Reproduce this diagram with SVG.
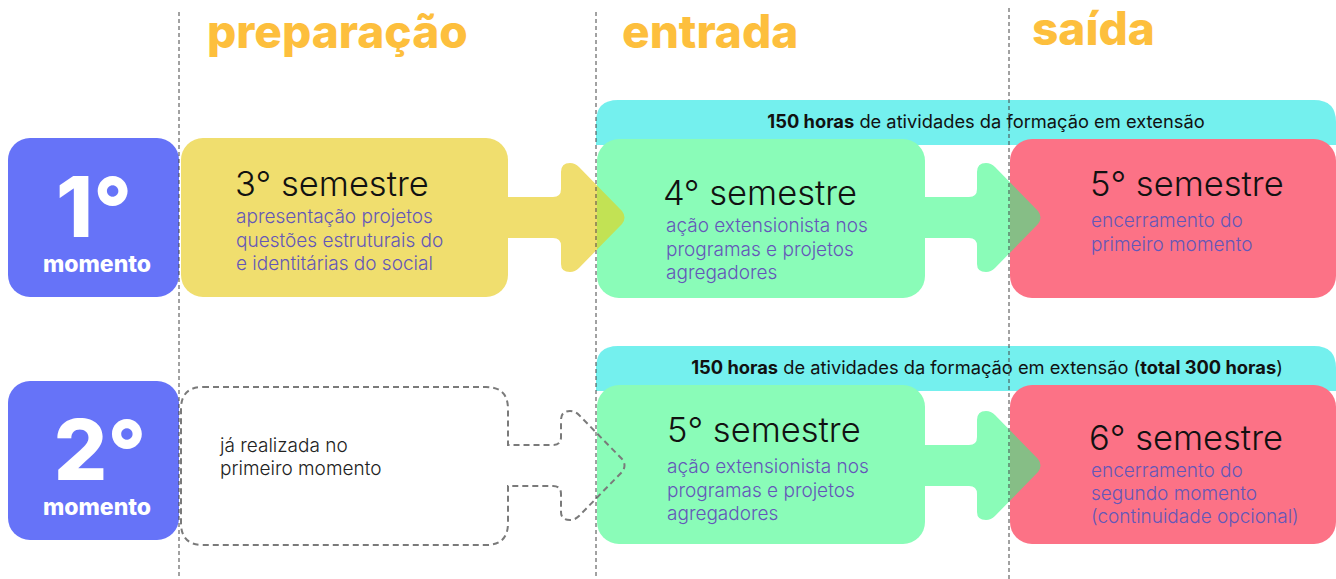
<svg xmlns="http://www.w3.org/2000/svg" width="1336" height="579" viewBox="0 0 1336 579">
<defs>
<style>
.title{font-family:Inter,"Open Sans",sans-serif;font-weight:800;font-size:46px;fill:#FDBF3D}
.mom{font-family:Inter,"Open Sans",sans-serif;font-weight:800;fill:#fff;text-anchor:middle}
.sem{font-family:Inter,"Open Sans",sans-serif;font-weight:300;font-size:34.5px;fill:#111}
.sub{font-family:Inter,"Open Sans",sans-serif;font-weight:300;font-size:19px;fill:#6457B8}
.plain{font-family:Inter,"Open Sans",sans-serif;font-weight:300;font-size:19px;fill:#222}
.band{font-family:Inter,"Open Sans",sans-serif;font-weight:400;font-size:18.3px;fill:#111;text-anchor:middle}
.b{font-weight:700}
.vl{stroke:#444;stroke-width:1;stroke-dasharray:4 3;fill:none}
.blue{fill:#6673F8}
.yellow{fill:#F0DE6E}
.green{fill:#8AFCB8}
.red{fill:#FC7286}
.cyan{fill:#74F0EE}
.ov1{fill:#C2E254}
.ov2{fill:#86BE86}
.dash{fill:none;stroke:#7A7A7A;stroke-width:2;stroke-dasharray:6 4}
</style>
<path id="a1" d="M 490 197 H 553 Q 561 197 561 189 V 172 Q 561 163 570 163 Q 575 163 579 167 L 622 211 Q 627 217.5 622 224 L 579 268 Q 575 272 570 272 Q 561 272 561 264 V 246 Q 561 238 553 238 H 490 Z"/>
<path id="a2" d="M 906 197 H 969 Q 977 197 977 189 V 172 Q 977 163 986 163 Q 991 163 995 167 L 1038 211 Q 1043 217.5 1038 224 L 995 268 Q 991 272 986 272 Q 977 272 977 264 V 246 Q 977 238 969 238 H 906 Z"/>
<path id="a3" d="M 906 445 H 969 Q 977 445 977 437 V 420 Q 977 411 986 411 Q 991 411 995 415 L 1038 459 Q 1043 465.5 1038 472 L 995 516 Q 991 520 986 520 Q 977 520 977 512 V 494 Q 977 486 969 486 H 906 Z"/>
<clipPath id="c1"><rect x="597" y="130" width="100" height="180"/></clipPath>
<clipPath id="c2"><rect x="1010" y="130" width="100" height="180"/></clipPath>
<clipPath id="c3"><rect x="1010" y="370" width="100" height="190"/></clipPath>
</defs>

<g id="headers">
<text class="title" x="207" y="48">preparação</text>
<text class="title" x="622" y="48">entrada</text>
<text class="title" x="1032" y="45">saída</text>
</g>

<g id="band1">
<path class="cyan" d="M 596 145 V 122 Q 596 100 618 100 H 1314 Q 1336 100 1336 122 V 145 Z"/>
<text class="band" x="986" y="128"><tspan class="b">150 horas</tspan> de atividades da formação em extensão</text>
</g>
<g id="band2">
<path class="cyan" d="M 596 391 V 368 Q 596 346 618 346 H 1314 Q 1336 346 1336 368 V 391 Z"/>
<text class="band" x="987" y="374"><tspan class="b">150 horas</tspan> de atividades da formação em extensão (<tspan class="b">total 300 horas</tspan>)</text>
</g>

<g id="momento1">
<rect class="blue" x="8" y="138" width="171" height="159" rx="22"/>
<text class="mom" x="94" y="237" font-size="84">1°</text>
<text class="mom" x="97" y="272" font-size="23">momento</text>
</g>
<g id="momento2">
<rect class="blue" x="8" y="381" width="171" height="159" rx="22"/>
<text class="mom" x="100" y="480" font-size="84">2°</text>
<text class="mom" x="97" y="515" font-size="23">momento</text>
</g>

<g id="connectors">
<use href="#a1" class="yellow"/>
<use href="#a2" class="green"/>
<use href="#a3" class="green"/>
</g>

<g id="sem3">
<rect class="yellow" x="181" y="138" width="327" height="159" rx="22"/>
<text class="sem" x="235" y="196">3° semestre</text>
<text class="sub" x="236" y="223">apresentação projetos</text>
<text class="sub" x="236" y="247">questões estruturais do</text>
<text class="sub" x="236" y="270">e identitárias do social</text>
</g>

<g id="sem4">
<rect class="green" x="597" y="139" width="328" height="159" rx="22"/>
<path class="ov1" d="M 490 197 H 553 Q 561 197 561 189 V 172 Q 561 163 570 163 Q 575 163 579 167 L 622 211 Q 627 217.5 622 224 L 579 268 Q 575 272 570 272 Q 561 272 561 264 V 246 Q 561 238 553 238 H 490 Z" clip-path="url(#c1)"/>
<text class="sem" x="663" y="205">4° semestre</text>
<text class="sub" x="666" y="232">ação extensionista nos</text>
<text class="sub" x="666" y="256">programas e projetos</text>
<text class="sub" x="666" y="279">agregadores</text>
</g>

<g id="sem5a">
<rect class="red" x="1010" y="139" width="326" height="159" rx="22"/>
<path class="ov2" d="M 906 197 H 969 Q 977 197 977 189 V 172 Q 977 163 986 163 Q 991 163 995 167 L 1038 211 Q 1043 217.5 1038 224 L 995 268 Q 991 272 986 272 Q 977 272 977 264 V 246 Q 977 238 969 238 H 906 Z" clip-path="url(#c2)"/>
<text class="sem" x="1090" y="196">5° semestre</text>
<text class="sub" x="1091" y="227">encerramento do</text>
<text class="sub" x="1091" y="251">primeiro momento</text>
</g>

<g id="sem5b">
<rect class="green" x="597" y="385" width="328" height="159" rx="22"/>
<text class="sem" x="667" y="442">5° semestre</text>
<text class="sub" x="667" y="473">ação extensionista nos</text>
<text class="sub" x="667" y="497">programas e projetos</text>
<text class="sub" x="667" y="520">agregadores</text>
</g>

<g id="prep2">
<path class="dash" d="M 203 387 H 486 Q 508 387 508 409 V 445 H 553 Q 561 445 561 437 V 420 Q 561 411 570 411 Q 575 411 579 415 L 622 459 Q 627 465.5 622 472 L 579 516 Q 575 520 570 520 Q 561 520 561 512 V 494 Q 561 486 553 486 H 508 V 523 Q 508 545 486 545 H 203 Q 181 545 181 523 V 409 Q 181 387 203 387 Z"/>
<text class="plain" x="220" y="452">já realizada no</text>
<text class="plain" x="220" y="475">primeiro momento</text>
</g>

<g id="sem6">
<rect class="red" x="1010" y="385" width="326" height="159" rx="22"/>
<path class="ov2" d="M 906 445 H 969 Q 977 445 977 437 V 420 Q 977 411 986 411 Q 991 411 995 415 L 1038 459 Q 1043 465.5 1038 472 L 995 516 Q 991 520 986 520 Q 977 520 977 512 V 494 Q 977 486 969 486 H 906 Z" clip-path="url(#c3)"/>
<text class="sem" x="1089" y="450">6° semestre</text>
<text class="sub" x="1091" y="477">encerramento do</text>
<text class="sub" x="1091" y="500">segundo momento</text>
<text class="sub" x="1091" y="523">(continuidade opcional)</text>
</g>

<g id="dividers">
<line class="vl" x1="179" y1="12" x2="179" y2="579"/>
<line class="vl" x1="596" y1="12" x2="596" y2="579"/>
<line class="vl" x1="1009" y1="8" x2="1009" y2="579"/>
</g>
</svg>
